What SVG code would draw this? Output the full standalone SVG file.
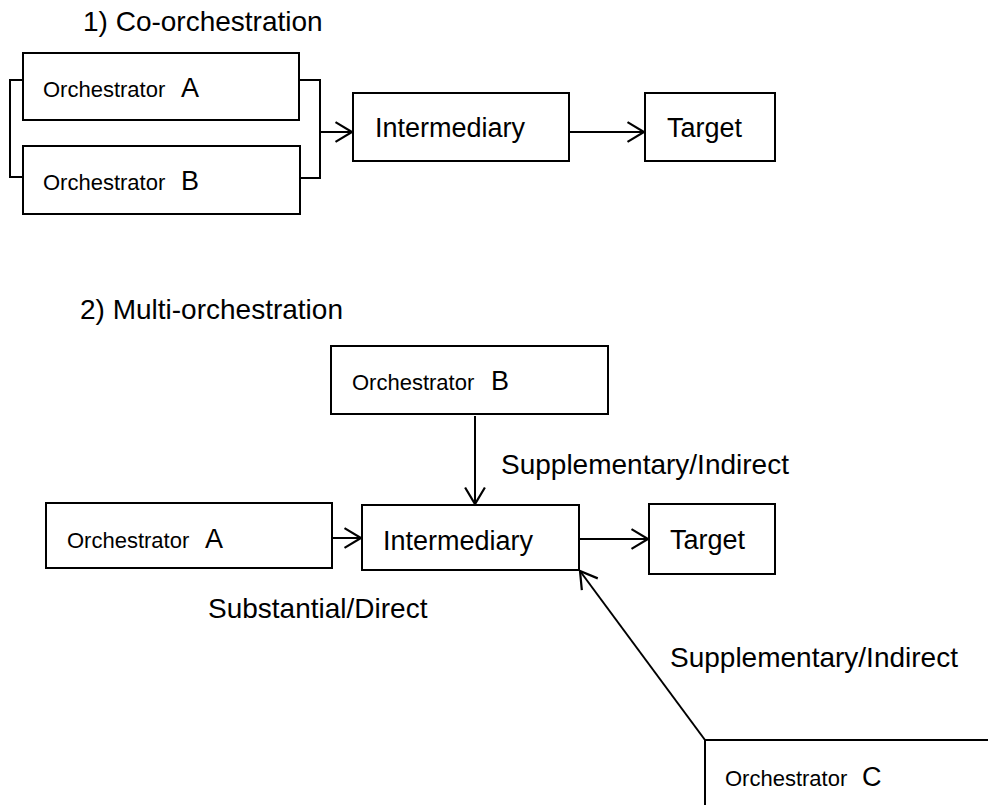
<svg xmlns="http://www.w3.org/2000/svg" width="988" height="805" viewBox="0 0 988 805">
<defs>
<style>
.box{fill:#fff;stroke:#000;stroke-width:2}
.ln{fill:none;stroke:#000;stroke-width:2}
text{font-family:"Liberation Sans",Arial,sans-serif;fill:#000}
.t{font-size:28px}
.m{font-size:27px}
.s{font-size:22px}
.b{font-size:27px}
</style>
<marker id="ah" markerUnits="userSpaceOnUse" markerWidth="20" markerHeight="22" viewBox="-1 -1 18 20" refX="15" refY="9" orient="auto" overflow="visible">
<path d="M0,0 L15,9 L0,18" fill="none" stroke="#000" stroke-width="2"/>
</marker>
</defs>
<rect width="988" height="805" fill="#fff"/>
<text class="t" x="83" y="31">1) Co-orchestration</text>
<text class="t" x="80" y="319">2) Multi-orchestration</text>

<g id="p1-orchA"><rect class="box" x="23" y="53" width="276" height="67"/><text x="43" y="97"><tspan class="s">Orchestrator </tspan><tspan class="b" x="181">A</tspan></text></g>
<g id="p1-orchB"><rect class="box" x="23" y="146" width="277" height="68"/><text x="43" y="190"><tspan class="s">Orchestrator </tspan><tspan class="b" x="181">B</tspan></text></g>
<g id="p1-inter"><rect class="box" x="353" y="93" width="216" height="68"/><text class="m" x="375" y="137">Intermediary</text></g>
<g id="p1-target"><rect class="box" x="645" y="93" width="130" height="68"/><text class="m" x="667" y="137">Target</text></g>

<g id="p2-orchB"><rect class="box" x="331" y="346" width="277" height="68"/><text x="352" y="390"><tspan class="s">Orchestrator </tspan><tspan class="b" x="491">B</tspan></text></g>
<g id="p2-orchA"><rect class="box" x="46" y="503" width="286" height="65"/><text x="67" y="548"><tspan class="s">Orchestrator </tspan><tspan class="b" x="205">A</tspan></text></g>
<g id="p2-inter"><rect class="box" x="362" y="505" width="217" height="65"/><text class="m" x="383" y="550">Intermediary</text></g>
<g id="p2-target"><rect class="box" x="649" y="504" width="126" height="70"/><text class="m" x="670" y="549">Target</text></g>
<g id="p2-orchC"><path class="ln" d="M705,805 V740 H988"/><text x="725" y="786"><tspan class="s">Orchestrator </tspan><tspan class="b" x="862">C</tspan></text></g>

<g id="connectors">
<path class="ln" d="M23,80 H10 V177 H23"/>
<path class="ln" d="M299,80 H320 V178 H300"/>
<path class="ln" d="M320,132 H352" marker-end="url(#ah)"/>
<path class="ln" d="M569,132 H644" marker-end="url(#ah)"/>
<path class="ln" d="M475,416 V504" marker-end="url(#ah)"/>
<path class="ln" d="M332,538 H361" marker-end="url(#ah)"/>
<path class="ln" d="M579,539 H648" marker-end="url(#ah)"/>
<path class="ln" d="M705,740 L580,571" marker-end="url(#ah)"/>
</g>
<text class="t" x="501" y="474">Supplementary/Indirect</text>
<text class="t" x="208" y="618">Substantial/Direct</text>
<text class="t" x="670" y="667">Supplementary/Indirect</text>
</svg>
